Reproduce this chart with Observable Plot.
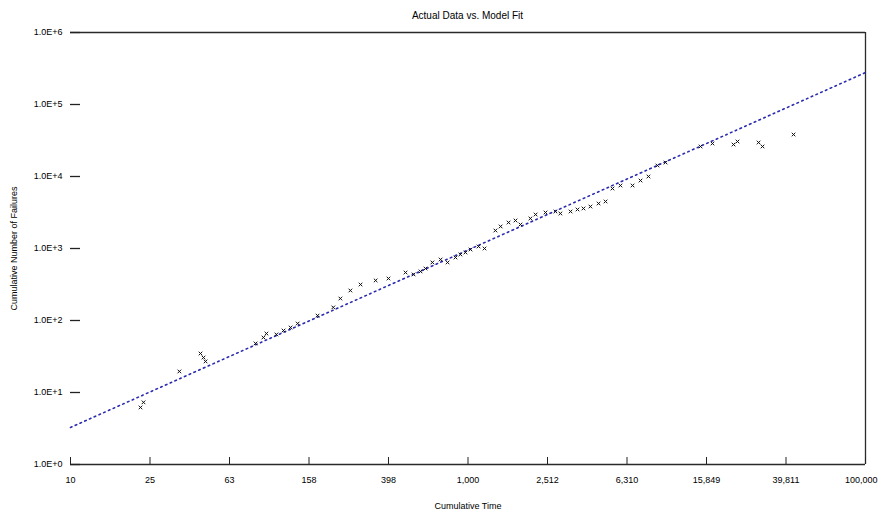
<!DOCTYPE html>
<html>
<head>
<meta charset="utf-8">
<script src="https://cdn.jsdelivr.net/npm/d3@7"></script>
<script src="https://cdn.jsdelivr.net/npm/@observablehq/plot@0.6"></script>
<style>
  body { margin: 0; background: #fff; font-family: "Liberation Sans", Arial, sans-serif; }
  #title {
    height: 26px; box-sizing: border-box; padding-top: 10px; padding-left: 70px;
    width: 865px; text-align: center; font-size: 10px; line-height: 12px; color: #000;
  }
</style>
</head>
<body>
<div id="title">Actual Data vs. Model Fit</div>
<div id="chart"></div>
<script>
// Observed failures: cumulative time and cumulative number of failures
const time = [22.5, 23.3, 35.3, 45.1, 46.7, 47.8, 85.3, 93.5, 96.8, 108.6, 118, 128, 139,
  175, 210, 228, 256, 288, 343, 398, 485, 532, 577, 611, 662, 728, 789, 865, 916, 971,
  1030, 1130, 1211, 1374, 1459, 1600, 1734, 1837, 2061, 2188, 2455, 2754, 2917, 3281,
  3556, 3811, 4130, 4539, 4920, 5333, 5848, 6730, 7379, 8091, 8974, 9863, 14791, 16982,
  21677, 22699, 28973, 30339, 43451];
const failures = [6.2, 7.3, 19.6, 34.8, 30.6, 27.0, 48.0, 58.1, 65.9, 64.0, 72.6, 80.0, 90.8,
  117, 152, 202, 261, 316, 360, 383, 464, 436, 480, 527, 640, 703, 640, 750, 826, 880,
  968, 1067, 1000, 1778, 2023, 2296, 2449, 2153, 2612, 2965, 3162, 3266, 3062, 3266,
  3483, 3597, 3828, 4217, 4498, 6808, 7499, 7499, 8790, 10000, 14223, 15631, 26122, 28708,
  27797, 30620, 29648, 26122, 38282];

// Fitted model line, end to end
const modelTime = [10, 100000];
const modelFailures = [3.27, 278000];

// Axis ticks and their labels
const xTicks = [10, 25.12, 63.1, 158.5, 398.1, 1000, 2512, 6310, 15849, 39811, 100000];
const xTickLabels = ["10", "25", "63", "158", "398", "1,000", "2,512", "6,310", "15,849", "39,811", "100,000"];
const yTicks = [1, 10, 100, 1000, 10000, 100000, 1000000];
const yTickLabels = ["1.0E+0", "1.0E+1", "1.0E+2", "1.0E+3", "1.0E+4", "1.0E+5", "1.0E+6"];

const points = time.map((t, i) => ({t, n: failures[i]}));
const model = modelTime.map((t, i) => ({t, n: modelFailures[i]}));
const xLabels = xTicks.map((v, i) => ({v, label: xTickLabels[i], last: i === xTicks.length - 1}));
const yLabelOf = new Map(yTicks.map((v, i) => [v, yTickLabels[i]]));

const border = {stroke: "#2a2a2a", strokeWidth: 1.3};

const chart = Plot.plot({
  width: 878,
  height: 489,
  marginLeft: 70,
  marginRight: 13,
  marginTop: 6,
  marginBottom: 51,
  style: {fontFamily: "'Liberation Sans', Arial, sans-serif", fontSize: "9px", color: "#000", background: "#fff"},
  x: {type: "log", domain: [10, 100000]},
  y: {type: "log", domain: [1, 1000000]},
  marks: [
    Plot.ruleY([1000000], border),
    Plot.ruleY([1], border),
    Plot.ruleX([100000], border),
    Plot.axisX({ticks: xTicks, tickSize: -7, text: null, label: "Cumulative Time",
      labelAnchor: "center", labelOffset: 44, labelArrow: "none", stroke: "#222"}),
    // tick labels along the bottom (the last one is kept inside the page edge)
    Plot.text(xLabels.filter(d => !d.last), {x: "v", text: "label", frameAnchor: "bottom", dy: 18}),
    Plot.text(xLabels.filter(d => d.last), {x: "v", text: "label", frameAnchor: "bottom", dy: 18, textAnchor: "end", dx: 12}),
    Plot.axisY({ticks: yTicks, tickSize: -10, text: null, label: null, stroke: "#222", strokeWidth: 1.3}),
    Plot.axisY({
      ticks: yTicks, tickSize: 0, tickPadding: 8,
      tickFormat: d => yLabelOf.get(d),
      label: "Cumulative Number of Failures", labelAnchor: "center", labelOffset: 60, labelArrow: "none"
    }),
    Plot.line(model, {x: "t", y: "n", stroke: "#2b2bb0", strokeWidth: 1.6, strokeDasharray: "1.6,3.6"}),
    Plot.dot(points, {x: "t", y: "n", symbol: "times", r: 1.8, stroke: "#111", strokeWidth: 1})
  ]
});
document.getElementById("chart").append(chart);
</script>
</body>
</html>
